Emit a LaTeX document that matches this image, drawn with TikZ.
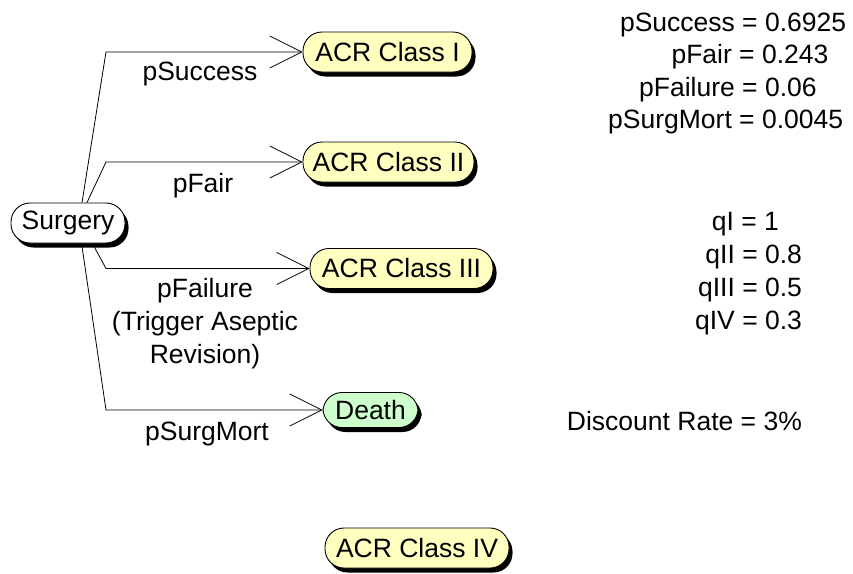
\documentclass[tikz,border=0pt]{standalone}
\usepackage{fontspec}
\setmainfont{Liberation Sans}
\usetikzlibrary{shadows,arrows.meta,calc}
\definecolor{nodeyellow}{RGB}{255,255,192}
\definecolor{nodegreen}{RGB}{204,255,204}
\begin{document}
\begin{tikzpicture}[x=1pt,y=-1pt,
  txt/.style={font=\fontsize{26.5}{33}\selectfont, inner sep=0pt},
  state/.style={txt, draw=black, line width=0.9pt, rounded corners=19pt,
    minimum height=40pt, inner xsep=5pt,
    drop shadow={shadow xshift=3.5pt, shadow yshift=-4.5pt, fill=black, opacity=1}},
  branch/.style={draw=black, line width=0.8pt, -{Straight Barb[length=32pt,width=32pt]}}
]
\useasboundingbox (0,0) rectangle (853,573);

% nodes
\node[state, fill=white, minimum width=114pt] (surg) at (68,223) {Surgery};
\node[state, fill=nodeyellow, minimum width=169pt] (c1) at (387.5,52) {ACR Class I};
\node[state, fill=nodeyellow, minimum width=171pt] (c2) at (388.5,162) {ACR Class II};
\node[state, fill=nodeyellow, minimum width=183pt] (c3) at (401.5,268.5) {ACR Class III};
\node[state, fill=nodegreen, minimum width=95pt, minimum height=35pt] (death) at (370.5,410) {Death};
\node[state, fill=nodeyellow, minimum width=184pt] (c4) at (417,548) {ACR Class IV};

% branches
\coordinate (bx) at (106,0);
\draw[branch] ($(surg.north)+(14,0)$) -- (c1.west -| bx) -- (c1.west);
\draw[branch] ($(surg.north)+(19,0)$) -- (c2.west -| bx) -- (c2.west);
\draw[branch] ($(surg.south)+(26,3)$) -- (c3.west -| bx) -- (c3.west);
\draw[branch] ($(surg.south)+(14,3)$) -- (death.west -| bx) -- (death.west);

% branch labels
\node[txt, anchor=base] (l1) at (200,80) {pSuccess};
\node[txt, anchor=base] (l2) at (203,192) {pFair};
\node[txt, anchor=base] (l3) at (205,297) {\begin{tabular}[t]{@{}c@{}}pFailure\\(Trigger Aseptic\\Revision)\end{tabular}};
\node[txt, anchor=base] (l4) at (207,440) {pSurgMort};

% parameters
\node[txt, anchor=base] (v1) at (750,31) {\llap{pSuccess }=\rlap{ 0.6925}};
\node[txt, anchor=base] (v2) at (747,63) {\llap{pFair }=\rlap{ 0.243}};
\node[txt, anchor=base] (v3) at (750,96) {\llap{pFailure }=\rlap{ 0.06}};
\node[txt, anchor=base] (v4) at (747,128) {\llap{pSurgMort }=\rlap{ 0.0045}};

\node[txt, anchor=base] (q1) at (749,230) {\llap{qI }=\rlap{ 1}};
\node[txt, anchor=base] (q2) at (750,263) {\llap{qII }=\rlap{ 0.8}};
\node[txt, anchor=base] (q3) at (750,296) {\llap{qIII }=\rlap{ 0.5}};
\node[txt, anchor=base] (q4) at (750,329) {\llap{qIV }=\rlap{ 0.3}};

\node[txt, anchor=base] (dr) at (748.5,430) {\llap{Discount Rate }=\rlap{ 3\%}};
\end{tikzpicture}
\end{document}
